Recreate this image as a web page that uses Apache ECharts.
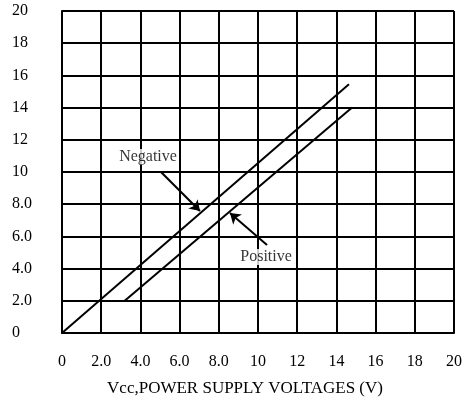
<!DOCTYPE html>
<html>
<head>
<meta charset="utf-8">
<script src="https://cdn.jsdelivr.net/npm/echarts@6/dist/echarts.min.js"></script>
<style>
html,body{margin:0;padding:0;background:#fff;}
#c{width:465px;height:402px;}
</style>
</head>
<body>
<div id="c"></div>
<script>
// Tick labels
var xTickLabels = ['0','2.0','4.0','6.0','8.0','10','12','14','16','18','20'];
var yTickLabels = ['0','2.0','4.0','6.0','8.0','10','12','14','16','18','20'];
var xAxisTitle = 'Vcc,POWER SUPPLY VOLTAGES (V)';

// Series: Negative and Positive lines (endpoints)
var negativeX = [0, 14.64];
var negativeY = [0, 15.45];
var positiveX = [3.2, 14.8];
var positiveY = [2.0, 14.0];

// Annotation arrows: [fromX, fromY, toX, toY]
var negativeArrow = [5.05, 10.0, 7.04, 7.58];
var positiveArrow = [10.46, 5.47, 8.57, 7.45];
// Annotation labels: [x, y]
var negativeLabelPos = [4.39, 10.93];
var positiveLabelPos = [10.41, 4.72];
var annotationNames = ['Negative', 'Positive'];

function pairs(xs, ys) {
  return xs.map(function (x, i) { return [x, ys[i]]; });
}

var FONT = 'Liberation Serif';
var chart = echarts.init(document.getElementById('c'), null, {renderer: 'canvas'});
chart.setOption({
  animation: false,
  backgroundColor: '#fff',
  grid: {left: 62, right: 11, top: 11, bottom: 69, containLabel: false},
  xAxis: {
    type: 'value', min: 0, max: 20, interval: 2,
    name: xAxisTitle, nameLocation: 'middle', nameGap: 47,
    nameTextStyle: {fontFamily: FONT, fontSize: 17, color: '#000', padding: [0, 26, 0, 0]},
    axisLine: {show: true, lineStyle: {color: '#000', width: 2}},
    axisTick: {show: false},
    axisLabel: {
      margin: 21, fontFamily: FONT, fontSize: 16, color: '#000',
      formatter: function (v) { return xTickLabels[Math.round(v / 2)]; }
    },
    splitLine: {show: true, lineStyle: {color: '#000', width: 2}}
  },
  yAxis: {
    type: 'value', min: 0, max: 20, interval: 2,
    axisLine: {show: true, lineStyle: {color: '#000', width: 2}},
    axisTick: {show: false},
    axisLabel: {
      margin: 50, align: 'left', fontFamily: FONT, fontSize: 16, color: '#000',
      formatter: function (v) { return yTickLabels[Math.round(v / 2)]; }
    },
    splitLine: {show: true, lineStyle: {color: '#000', width: 2}}
  },
  series: [
    {
      name: 'Negative', type: 'line', data: pairs(negativeX, negativeY),
      showSymbol: false, lineStyle: {color: '#000', width: 2}, z: 5
    },
    {
      name: 'Positive', type: 'line', data: pairs(positiveX, positiveY),
      showSymbol: false, lineStyle: {color: '#000', width: 2}, z: 5
    },
    {
      type: 'lines', coordinateSystem: 'cartesian2d', z: 6,
      symbol: ['none', 'arrow'], symbolSize: 10,
      lineStyle: {color: '#000', width: 2, opacity: 1},
      data: [
        {coords: [[negativeArrow[0], negativeArrow[1]], [negativeArrow[2], negativeArrow[3]]]},
        {coords: [[positiveArrow[0], positiveArrow[1]], [positiveArrow[2], positiveArrow[3]]]}
      ]
    },
    {
      type: 'scatter', symbolSize: 0, z: 7,
      data: [
        {value: negativeLabelPos, name: annotationNames[0]},
        {value: positiveLabelPos, name: annotationNames[1]}
      ],
      label: {
        show: true, position: 'inside', formatter: '{b}',
        fontFamily: FONT, fontSize: 16, color: '#000',
        backgroundColor: '#fff', padding: [0, 1]
      }
    }
  ]
});
</script>
</body>
</html>
